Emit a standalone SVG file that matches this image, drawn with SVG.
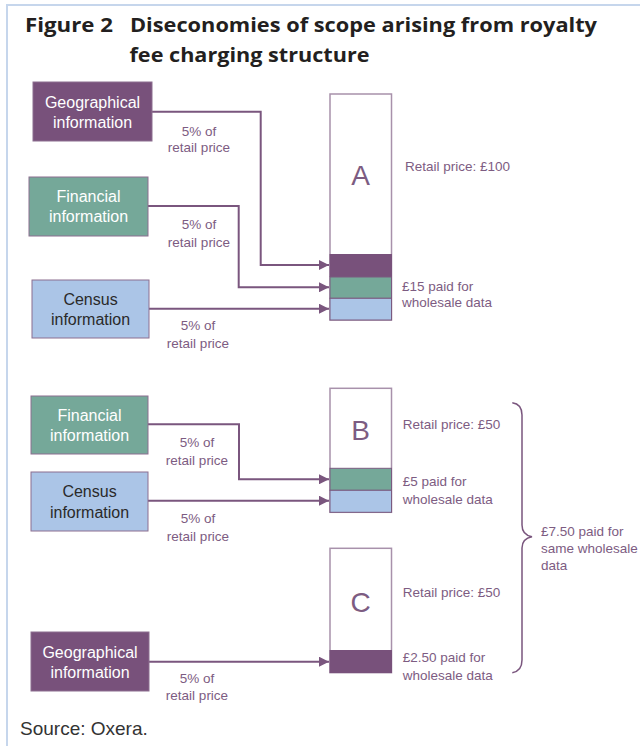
<svg xmlns="http://www.w3.org/2000/svg" width="640" height="746" viewBox="0 0 640 746">
<style>
.title{font-family:"Open Sans","Liberation Sans",sans-serif;font-weight:bold;font-size:20px;fill:#231f20}
.bt{font-family:"Liberation Sans",Arial,sans-serif;font-size:16px;fill:#ffffff;text-anchor:middle}
.bt.dark{fill:#2a2a2a}
.lbl{font-family:"Liberation Sans",Arial,sans-serif;font-size:13.5px;fill:#7d5c82;text-anchor:middle}
.rt{font-family:"Liberation Sans",Arial,sans-serif;font-size:13.5px;fill:#7d5c82}
.big{font-family:"Liberation Sans",Arial,sans-serif;font-size:28px;fill:#7d5c82;text-anchor:middle}
.src{font-family:"Liberation Sans",Arial,sans-serif;font-size:19px;fill:#333333}
.purple{fill:#78517b}
.green{fill:#75a899}
.blue{fill:#abc5e7}
.box{stroke:#8c6f90;stroke-width:1}
.col{fill:#ffffff;stroke:#a891ab;stroke-width:1.5}
.band{stroke:#7a5a80;stroke-width:1}
.conn{fill:none;stroke:#7a567e;stroke-width:2}
</style>
<defs>
<marker id="arr" markerUnits="userSpaceOnUse" markerWidth="10" markerHeight="10" refX="10" refY="5" orient="auto">
<path d="M0,0 L10,5 L0,10 z" fill="#7a567e"/>
</marker>
</defs>
<rect width="640" height="746" fill="#ffffff"/>
<path d="M7 746 V5 H640" fill="none" stroke="#c6d6ec" stroke-width="2"/>

<g id="title">
<text class="title" x="25" y="32" textLength="88" lengthAdjust="spacingAndGlyphs">Figure 2</text>
<text class="title" x="130" y="32" textLength="467" lengthAdjust="spacingAndGlyphs">Diseconomies of scope arising from royalty</text>
<text class="title" x="129.5" y="62" textLength="240" lengthAdjust="spacingAndGlyphs">fee charging structure</text>
</g>

<g id="connectors">
<path class="conn" d="M152 111.7 H260.7 V265 H329" marker-end="url(#arr)"/>
<path class="conn" d="M148 206 H238.7 V287.3 H329" marker-end="url(#arr)"/>
<path class="conn" d="M149 308.7 H329" marker-end="url(#arr)"/>
<path class="conn" d="M148 424.3 H239 V479.3 H329" marker-end="url(#arr)"/>
<path class="conn" d="M148 500.7 H329" marker-end="url(#arr)"/>
<path class="conn" d="M149 661.7 H329" marker-end="url(#arr)"/>
</g>

<g id="geo1">
<rect class="purple box" x="33" y="82" width="119" height="59"/>
<text class="bt" x="92.5" y="107.5">Geographical</text>
<text class="bt" x="92.5" y="127.5">information</text>
</g>
<g id="fin1">
<rect class="green box" x="29" y="177" width="119" height="59"/>
<text class="bt" x="88.5" y="202">Financial</text>
<text class="bt" x="88.5" y="222">information</text>
</g>
<g id="census1">
<rect class="blue box" x="32" y="280" width="117" height="58"/>
<text class="bt dark" x="90.5" y="304.5">Census</text>
<text class="bt dark" x="90.5" y="325">information</text>
</g>
<g id="fin2">
<rect class="green box" x="31" y="396" width="117" height="58"/>
<text class="bt" x="89.5" y="420.5">Financial</text>
<text class="bt" x="89.5" y="440.5">information</text>
</g>
<g id="census2">
<rect class="blue box" x="31" y="472" width="117" height="59"/>
<text class="bt dark" x="89.5" y="497">Census</text>
<text class="bt dark" x="89.5" y="518">information</text>
</g>
<g id="geo2">
<rect class="purple box" x="31" y="632" width="118" height="59"/>
<text class="bt" x="90" y="658">Geographical</text>
<text class="bt" x="90" y="678">information</text>
</g>

<g id="labels">
<text class="lbl" x="199" y="135.5">5% of</text>
<text class="lbl" x="199" y="152">retail price</text>
<text class="lbl" x="199" y="228.5">5% of</text>
<text class="lbl" x="199" y="246.5">retail price</text>
<text class="lbl" x="198" y="329.5">5% of</text>
<text class="lbl" x="198" y="347.5">retail price</text>
<text class="lbl" x="197" y="447">5% of</text>
<text class="lbl" x="197" y="465">retail price</text>
<text class="lbl" x="198" y="523">5% of</text>
<text class="lbl" x="198" y="540.5">retail price</text>
<text class="lbl" x="197" y="682.5">5% of</text>
<text class="lbl" x="197" y="699.5">retail price</text>
</g>

<g id="colA">
<rect class="col" x="330" y="94" width="61.5" height="226"/>
<rect class="purple" x="329.5" y="254" width="62.5" height="23"/>
<rect class="green band" x="330" y="277" width="61.5" height="21.3"/>
<rect class="blue band" x="330" y="298.3" width="61.5" height="21.7"/>
<text class="big" x="360.7" y="185">A</text>
<text class="rt" x="405" y="171.4">Retail price: £100</text>
<text class="rt" x="402" y="290.7">£15 paid for</text>
<text class="rt" x="402" y="307.4">wholesale data</text>
</g>

<g id="colB">
<rect class="col" x="330" y="388.3" width="61.5" height="124"/>
<rect class="green band" x="330" y="468.3" width="61.5" height="22"/>
<rect class="blue band" x="330" y="490.3" width="61.5" height="22"/>
<text class="big" x="360.7" y="440">B</text>
<text class="rt" x="402.7" y="428.7">Retail price: £50</text>
<text class="rt" x="402.7" y="486.4">£5 paid for</text>
<text class="rt" x="402.7" y="504">wholesale data</text>
</g>

<g id="colC">
<rect class="col" x="330" y="548.3" width="61.5" height="124.4"/>
<rect class="purple" x="329.5" y="650" width="62.5" height="23"/>
<text class="big" x="360.7" y="611.7">C</text>
<text class="rt" x="402.7" y="597">Retail price: £50</text>
<text class="rt" x="402.7" y="662">£2.50 paid for</text>
<text class="rt" x="402.7" y="680.4">wholesale data</text>
</g>

<g id="brace">
<path d="M512.3 402.7 Q522 404 522 415 V525 Q522 535 532 536.7 Q522 538.5 522 548 V660 Q522 671 512.3 672.7" fill="none" stroke="#7a567e" stroke-width="1.5"/>
<text class="rt" x="541" y="535.7">£7.50 paid for</text>
<text class="rt" x="541" y="553">same wholesale</text>
<text class="rt" x="541" y="570.4">data</text>
</g>

<text class="src" x="20" y="734.5">Source: Oxera.</text>
</svg>
